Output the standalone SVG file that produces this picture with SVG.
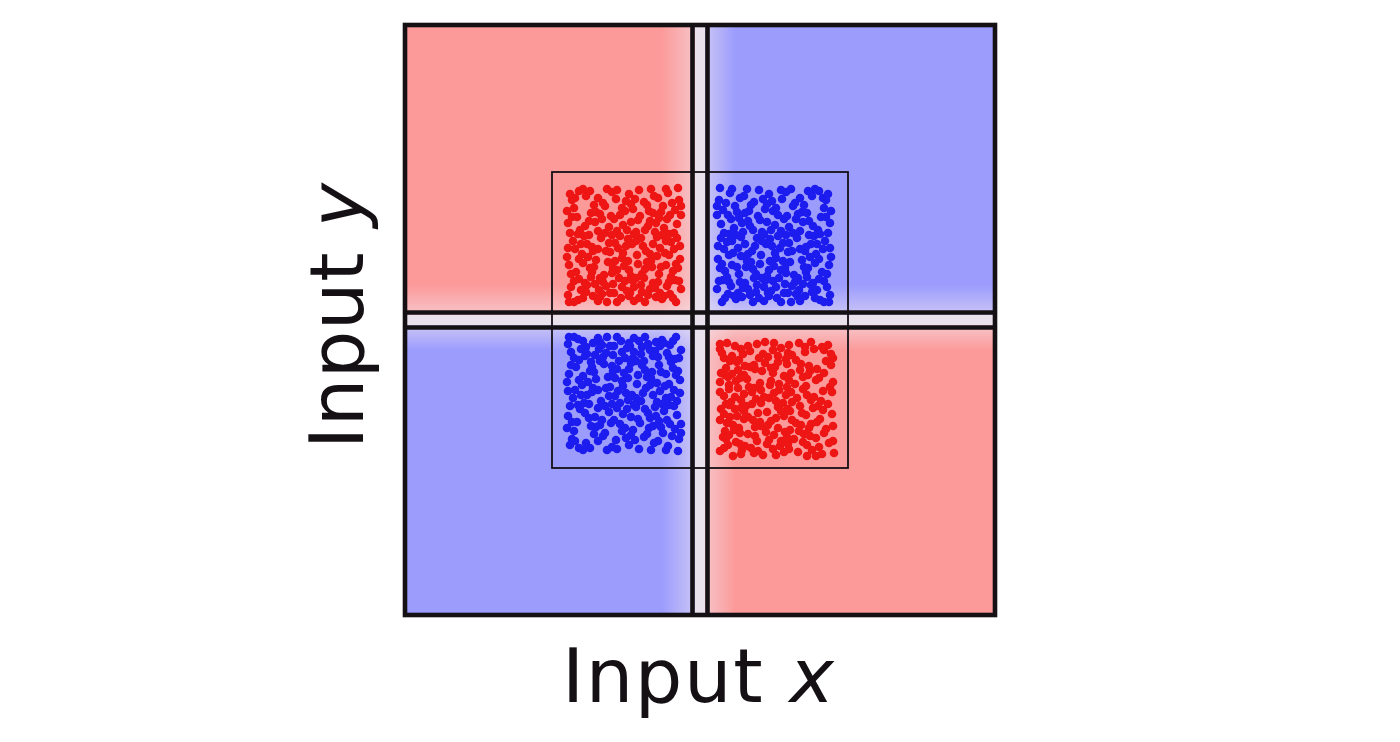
<svg xmlns="http://www.w3.org/2000/svg" xmlns:xlink="http://www.w3.org/1999/xlink" width="1400" height="742" viewBox="0 0 1400 742">
<style>
.lbl{font-family:"DejaVu Sans","Liberation Sans",sans-serif;font-size:75px;fill:#141014}
.line{stroke:#141014;stroke-width:4.6;fill:none}
.dots{fill:none;stroke-width:8.6;stroke-linecap:round}
</style>
<defs>
<linearGradient id="gv" x1="0" y1="0" x2="1" y2="0">
<stop offset="0" stop-color="#f2e8f0" stop-opacity="0"/>
<stop offset="0.384" stop-color="#f2e8f0" stop-opacity="0.45"/>
<stop offset="0.658" stop-color="#f2e8f0" stop-opacity="0.45"/>
<stop offset="1" stop-color="#f2e8f0" stop-opacity="0"/>
</linearGradient>
<linearGradient id="gh" x1="0" y1="0" x2="0" y2="1">
<stop offset="0" stop-color="#f2e8f0" stop-opacity="0"/>
<stop offset="0.385" stop-color="#f2e8f0" stop-opacity="0.45"/>
<stop offset="0.692" stop-color="#f2e8f0" stop-opacity="0.45"/>
<stop offset="1" stop-color="#f2e8f0" stop-opacity="0"/>
</linearGradient>
<path id="dots" class="dots" d="M5 8h0M18 3h0M33 12h0M47 6h0M61 15h0M74 4h0M89 10h0M103 7h0M114 14h0M9 22h0M26 27h0M40 20h0M55 29h0M68 23h0M82 19h0M96 26h0M110 24h0M3 37h0M15 44h0M30 36h0M44 41h0M58 39h0M71 46h0M85 35h0M99 42h0M112 38h0M8 55h0M22 58h0M36 52h0M50 57h0M63 53h0M78 60h0M92 51h0M106 56h0M2 71h0M17 68h0M31 74h0M45 66h0M57 72h0M72 69h0M86 75h0M100 67h0M115 73h0M11 86h0M25 82h0M39 89h0M52 84h0M66 90h0M80 83h0M94 88h0M108 85h0M6 101h0M20 97h0M34 104h0M48 98h0M62 105h0M76 99h0M90 102h0M104 96h0M116 103h0M13 114h0M28 110h0M42 116h0M56 112h0M69 115h0M83 109h0M97 113h0M111 116h0
M7 14h0M21 10h0M38 17h0M51 13h0M64 8h0M79 16h0M93 12h0M107 17h0M12 31h0M24 35h0M35 28h0M49 33h0M60 25h0M75 30h0M88 27h0M102 33h0M116 29h0M5 47h0M19 50h0M33 45h0M47 49h0M62 44h0M76 52h0M90 46h0M104 48h0M10 63h0M27 61h0M41 65h0M53 62h0M67 58h0M81 65h0M95 62h0M109 63h0M4 79h0M18 77h0M29 81h0M43 76h0M59 80h0M73 78h0M87 81h0M101 79h0M113 82h0M14 93h0M26 91h0M38 96h0M54 92h0M68 95h0M79 92h0M93 96h0M110 94h0M3 109h0M21 106h0M37 108h0M49 107h0M64 110h0M77 106h0M91 111h0M105 108h0M9 116h0M33 115h0
M14 5h0M29 19h0M42 3h0M57 22h0M70 13h0M86 3h0M98 20h0M113 2h0M2 25h0M20 40h0M37 33h0M52 45h0M66 36h0M80 44h0M94 32h0M109 47h0M13 48h0M28 65h0M44 57h0M58 67h0M71 55h0M85 68h0M101 55h0M115 60h0M6 88h0M23 71h0M35 92h0M50 75h0M64 84h0M77 88h0M92 70h0M106 91h0M16 104h0M30 98h0M45 107h0M60 95h0M74 112h0M88 97h0M99 110h0M114 95h0M4 116h0M47 87h0M83 40h0M24 49h0M69 101h0
M10 12h0M25 5h0M52 4h0M66 18h0M84 25h0M101 3h0M116 20h0M7 31h0M31 26h0M46 30h0M73 34h0M91 37h0M105 29h0M16 58h0M40 47h0M55 50h0M69 48h0M97 49h0M112 52h0M3 62h0M33 63h0M61 60h0M88 58h0M104 69h0M14 73h0M27 86h0M48 82h0M63 75h0M82 76h0M96 81h0M111 78h0M9 95h0M22 99h0M41 100h0M57 101h0M71 92h0M85 103h0M102 100h0M18 112h0M35 111h0M52 116h0M65 107h0M80 116h0M95 107h0M108 112h0"/>
</defs>
<g id="background">
<rect x="405" y="25" width="295" height="295" fill="#fc9a9a"/>
<rect x="700" y="25" width="295" height="295" fill="#9c9cfd"/>
<rect x="405" y="320" width="295" height="295" fill="#9c9cfd"/>
<rect x="700" y="320" width="295" height="295" fill="#fc9a9a"/>
<rect x="662" y="25" width="73" height="590" fill="url(#gv)"/>
<rect x="405" y="285" width="590" height="65" fill="url(#gh)"/>
<rect x="695" y="25" width="10" height="590" fill="#e9e1ec"/>
<rect x="405" y="315" width="590" height="10" fill="#e9e1ec"/>
</g>
<g id="cluster-tl"><use xlink:href="#dots" href="#dots" stroke="#ee1515" transform="translate(565,186)"/></g>
<g id="cluster-tr"><use xlink:href="#dots" href="#dots" stroke="#1c1cee" transform="translate(833,186) scale(-1,1)"/></g>
<g id="cluster-bl"><use xlink:href="#dots" href="#dots" stroke="#1c1cee" transform="translate(565,453) scale(1,-1)"/></g>
<g id="cluster-br"><use xlink:href="#dots" href="#dots" stroke="#ee1515" transform="translate(836,340) rotate(90)"/></g>
<g id="inner-box"><rect x="552" y="172" width="296" height="296" fill="none" stroke="#141014" stroke-width="1.8"/></g>
<g id="connectors">
<line class="line" x1="692.5" y1="25" x2="692.5" y2="615"/>
<line class="line" x1="707.5" y1="25" x2="707.5" y2="615"/>
<line class="line" x1="405" y1="312.5" x2="995" y2="312.5"/>
<line class="line" x1="405" y1="327.5" x2="995" y2="327.5"/>
</g>
<g id="frame"><rect x="405" y="25" width="590" height="590" class="line" stroke-width="4"/></g>
<g id="label-x"><text class="lbl" x="562" y="702" textLength="272" lengthAdjust="spacing">Input <tspan font-style="italic">x</tspan></text></g>
<g id="label-y"><text class="lbl" transform="translate(363,449) rotate(-90)" x="0" y="0" textLength="266" lengthAdjust="spacing">Input <tspan font-style="italic">y</tspan></text></g>
</svg>
